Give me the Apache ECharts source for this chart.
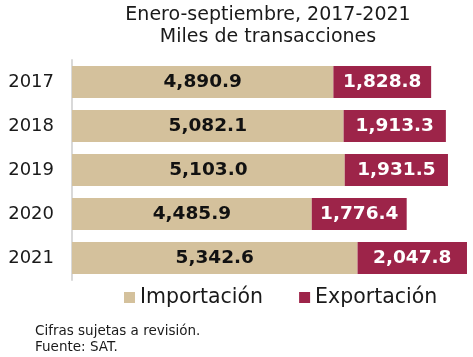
<!DOCTYPE html>
<html><head><meta charset="utf-8">
<script src="https://cdn.jsdelivr.net/npm/echarts@6/dist/echarts.min.js"></script>
<style>html,body{margin:0;padding:0;background:#fff}#c{width:473px;height:357px}</style>
</head><body><div id="c"></div>
<script>
const years = ['2017','2018','2019','2020','2021'];
const importacion = [4890.9, 5082.1, 5103.0, 4485.9, 5342.6];
const exportacion = [1828.8, 1913.3, 1931.5, 1776.4, 2047.8];
const titleLines = ['Enero-septiembre, 2017-2021', 'Miles de transacciones'];
const notes = ['Cifras sujetas a revisión.', 'Fuente: SAT.'];
const FONT = 'DejaVu Sans';
const fmt = v => v.toLocaleString('en-US', {minimumFractionDigits:1, maximumFractionDigits:1});
const chart = echarts.init(document.getElementById('c'));
chart.setOption({
  animation:false,
  textStyle:{fontFamily:FONT},
  title:[{text:titleLines.join('\n'), left:263, textAlign:'center', top:-1,
    textStyle:{fontFamily:FONT, fontWeight:'normal', fontSize:19, color:'#1a1a1a', lineHeight:22}},
    {text:notes.join('\n'), left:30, top:318, textStyle:{fontFamily:FONT, fontWeight:'normal', fontSize:13.5, color:'#1a1a1a', lineHeight:16}}],
  legend:{top:282, left:119, itemWidth:11, itemHeight:11, itemGap:36, icon:'rect',
    textStyle:{fontFamily:FONT, fontSize:20.5, color:'#1a1a1a'}, data:['Importación','Exportación']},
  grid:{left:72, right:5.5, top:60, height:220},
  xAxis:{type:'value', min:0, max:7400, show:false},
  yAxis:{type:'category', inverse:true, data:years,
    axisLine:{show:true, lineStyle:{color:'#d9d9d9', width:2}}, axisTick:{show:false},
    axisLabel:{fontFamily:FONT, fontSize:18, color:'#1a1a1a', margin:18}},
  series:[
    {name:'Importación', type:'bar', stack:'t', data:importacion, barWidth:32,
     itemStyle:{color:'#D4C19C'},
     label:{show:true, position:'inside', formatter:p=>fmt(p.value), fontFamily:FONT, fontWeight:'bold', fontSize:18.5, color:'#111'}},
    {name:'Exportación', type:'bar', stack:'t', data:exportacion, barWidth:32,
     itemStyle:{color:'#9D2449'},
     label:{show:true, position:'inside', formatter:p=>fmt(p.value), fontFamily:FONT, fontWeight:'bold', fontSize:18.5, color:'#fff'}}
  ]
});
</script></body></html>
